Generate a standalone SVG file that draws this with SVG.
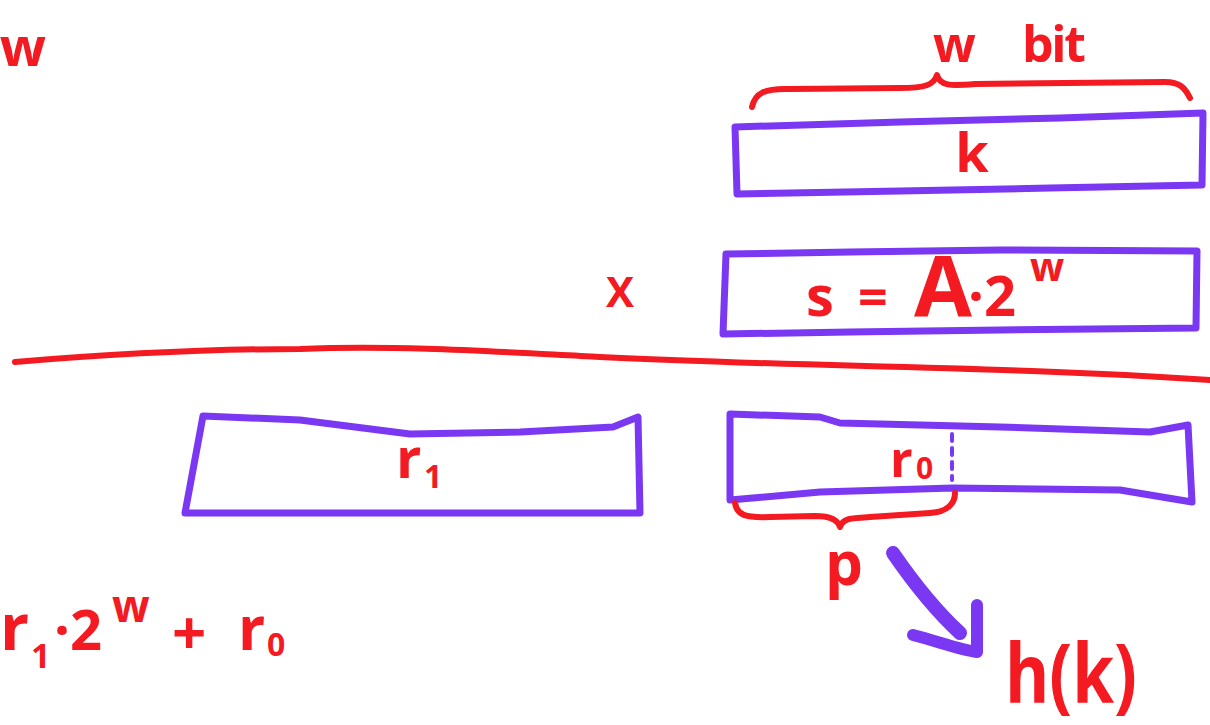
<svg xmlns="http://www.w3.org/2000/svg" width="1210" height="725" viewBox="0 0 1210 725">
<defs>
<style>
.box{fill:none;stroke:#7b38f2;stroke-width:7;stroke-linejoin:round;stroke-linecap:round}
.red{fill:none;stroke:#f31a22;stroke-width:6;stroke-linecap:round;stroke-linejoin:round}
.t{fill:#f31a22;font-family:"Open Sans","Liberation Sans",sans-serif;font-weight:bold}
.arrow{fill:none;stroke:#7b38f2;stroke-linecap:round;stroke-linejoin:round}
</style>
</defs>
<rect width="1210" height="725" fill="#ffffff"/>

<text class="t" x="46" y="66" font-size="54" text-anchor="end">w</text>

<g id="brace-w">
<path class="red" d="M752,107 C755,93 765,88 790,89 L900,88 C925,88 934,85 937,75 C940,86 950,86 975,84 L1165,82 C1180,82 1185,88 1190,98"/>
<text class="t" y="62" font-size="50"><tspan x="933">w</tspan><tspan x="1022" textLength="64" lengthAdjust="spacing">bit</tspan></text>
</g>

<g id="node-k">
<path class="box" d="M735,127 L900,122 L1060,118 L1203,113 L1202,185 L1050,188 L900,191 L737,194 Z"/>
<text class="t" x="972" y="172" font-size="54" text-anchor="middle">k</text>
</g>

<text class="t" x="620" y="307" font-size="42" text-anchor="middle">X</text>

<g id="node-s">
<path class="box" d="M726,254 L850,252 L1000,250 L1197,251 L1196,328 L1000,330 L850,332 L723,334 Z"/>
<text class="t" y="316"><tspan x="806" font-size="56">s</tspan><tspan x="858" font-size="52">=</tspan><tspan x="914" font-size="84">A</tspan><tspan x="968" font-size="56">·2</tspan><tspan x="1030" y="281" font-size="40">w</tspan></text>
</g>

<path class="red" d="M15,362 C100,355 200,349 300,349 C400,345 500,352 600,357 C800,367 1000,366 1210,380"/>

<g id="node-r1">
<path class="box" d="M203,416 L300,420 L410,434 L520,432 L613,427 L638,417 L640,513 L400,513 L185,513 Z"/>
<text class="t" y="478"><tspan x="396" font-size="56">r</tspan><tspan x="424" y="488" font-size="32">1</tspan></text>
</g>

<g id="node-r0">
<path class="box" d="M730,414 L820,417 L840,423 L1000,427 L1150,432 L1188,425 L1192,502 L1120,490 L953,488 L820,492 L730,500 Z"/>
<line x1="952" y1="434" x2="952" y2="480" stroke="#7b38f2" stroke-width="4" stroke-dasharray="7 7" stroke-linecap="round"/>
<text class="t" y="477"><tspan x="890" font-size="50">r</tspan><tspan x="916" y="479" font-size="30">0</tspan></text>
</g>

<g id="brace-p">
<path class="red" d="M735,503 C737,515 745,518 770,517 L815,516 C830,516 838,520 840,527 C843,518 852,518 870,517 L930,513 C948,512 955,503 955,493"/>
<text class="t" x="844" y="585" font-size="60" text-anchor="middle">p</text>
</g>

<g id="connectors">
<path class="arrow" stroke-width="14" d="M893,553 C915,585 935,610 960,633"/>
<path class="arrow" stroke-width="12" d="M913,635 C940,642 960,650 977,652 C977,635 977,620 977,605"/>
</g>

<g id="node-hk">
<text class="t" x="1005" y="703" font-size="82" textLength="132" lengthAdjust="spacingAndGlyphs">h(k)</text>
</g>

<g id="formula">
<text class="t" y="650"><tspan x="0" font-size="64">r</tspan><tspan x="31" y="668" font-size="34">1</tspan><tspan x="54" y="650" font-size="56">·2</tspan><tspan x="112" y="622" font-size="44">w</tspan><tspan x="172" y="655" font-size="60">+</tspan><tspan x="238" y="650" font-size="60">r</tspan><tspan x="267" y="656" font-size="32">0</tspan></text>
</g>
</svg>
